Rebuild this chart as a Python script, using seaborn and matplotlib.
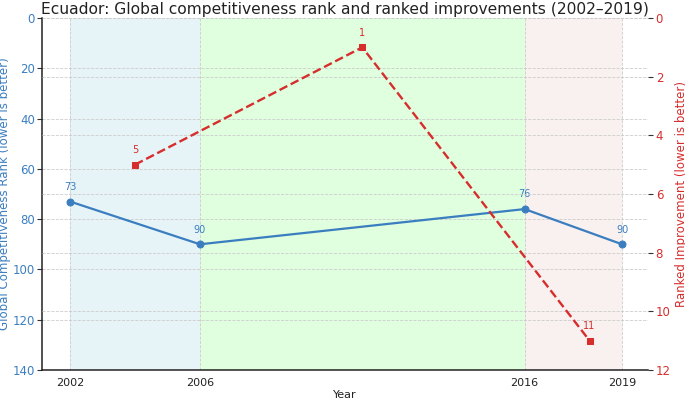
import matplotlib
matplotlib.use("Agg")
import matplotlib.pyplot as plt
import seaborn as sns
import pandas as pd

years_rank = [2002, 2006, 2016, 2019]
rank = [73, 90, 76, 90]
years_impr = [2004, 2011, 2018]
impr = [5, 1, 11]
xticks = [2002, 2006, 2016, 2019]
periods = [(2002, 2006, "#e6f4f7"), (2006, 2016, "#dfffdf"), (2016, 2019, "#f9f0f0")]

sns.set_style("white")
plt.rcParams['font.family'] = ['DejaVu Sans']

BLUE = "#3b7ec0"
RED = "#d62d2d"

fig = plt.figure(figsize=(6.85, 4.0), dpi=100)
ax = fig.add_axes([0.062, 0.075, 0.884, 0.880])

for a, b, c in periods:
    ax.axvspan(a, b, color=c, zorder=0, lw=0)

df1 = pd.DataFrame({"Year": years_rank, "Rank": rank})
sns.lineplot(data=df1, x="Year", y="Rank", ax=ax, color=BLUE, marker="o",
             markersize=5, markeredgecolor=BLUE, lw=1.6, zorder=3)
for x, y in zip(years_rank, rank):
    ax.annotate(str(y), (x, y), xytext=(0, 7), textcoords="offset points",
                ha="center", va="bottom", color=BLUE, fontsize=7)

ax.set_xlim(2001.15, 2019.8)
ax.set_ylim(140, 0)
ax.set_yticks(range(0, 141, 20))
ax.set_xticks(xticks)
ax.set_xlabel("Year", fontsize=8, color="#222222", labelpad=2)
ax.set_ylabel("Global Competitiveness Rank (lower is better)", color=BLUE, fontsize=8.5, labelpad=1)
ax.tick_params(axis="y", colors=BLUE, labelsize=8.5, length=3.5, color="#333333", pad=2)
ax.tick_params(axis="x", labelsize=8, length=3.5, labelcolor="#222222", color="#333333", pad=2)
ax.grid(True, axis="both", linestyle="--", color="#cccccc", lw=0.6)
for s in ["top", "right"]:
    ax.spines[s].set_visible(False)
for s in ["left", "bottom"]:
    ax.spines[s].set_color("#222222")
    ax.spines[s].set_linewidth(1.1)

ax2 = ax.twinx()
df2 = pd.DataFrame({"Year": years_impr, "Improvement": impr})
sns.lineplot(data=df2, x="Year", y="Improvement", ax=ax2, color=RED, marker="s",
             markersize=5, markeredgecolor=RED, lw=1.7, linestyle="--", zorder=3)
for x, y in zip(years_impr, impr):
    ax2.annotate(str(y), (x, y), xytext=(0, 7), textcoords="offset points",
                 ha="center", va="bottom", color=RED, fontsize=7)
ax2.set_ylim(12, 0)
ax2.set_yticks(range(0, 13, 2))
ax2.set_ylabel("Ranked Improvement (lower is better)", color=RED, fontsize=8.5, labelpad=3)
ax2.tick_params(axis="y", colors=RED, labelsize=8.5, length=3.5, color="#333333", pad=2)
ax2.grid(True, axis="y", linestyle="--", color="#cccccc", lw=0.6)
for s in ["top", "right", "left", "bottom"]:
    ax2.spines[s].set_visible(False)

ax.set_title("Ecuador: Global competitiveness rank and ranked improvements (2002\u20132019)",
             fontsize=11.2, color="#222222", pad=3)

fig.savefig("out.png", dpi=100)
